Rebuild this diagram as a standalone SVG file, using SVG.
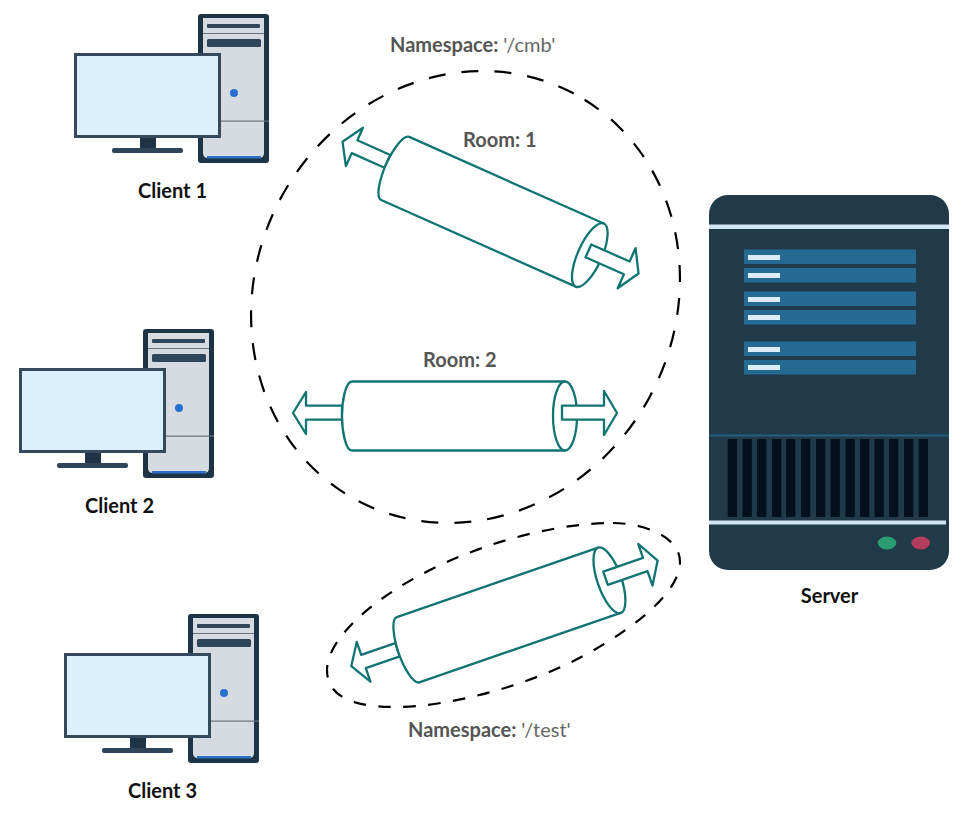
<svg xmlns="http://www.w3.org/2000/svg" xmlns:xlink="http://www.w3.org/1999/xlink" width="968" height="835" viewBox="0 0 968 835">
<style>
text{font-family:Lato,"Open Sans","Liberation Sans",sans-serif;font-size:20px}
.lbl{font-weight:700;fill:#111;text-anchor:middle}
.cap{font-weight:700;fill:#555}
.cap tspan{font-weight:400;fill:#666}
.tube{fill:#fff;stroke:#0f7472;stroke-width:2.300;stroke-linejoin:round}
.dash{fill:none;stroke:#000;stroke-width:2.200}
.bar{fill:#246a91}
.tick{fill:#dcedf9}
.vent{fill:#03111f}
</style>
<defs>
<g id="pc">
<rect x="198" y="14" width="71" height="149" rx="3" fill="#1d3446"/>
<path d="M203,18H264V153Q264,158 259,158H208Q203,158 203,153Z" fill="#d6dbe1"/>
<rect x="207" y="24" width="53" height="4" rx="1" fill="#2f4559"/>
<rect x="203" y="33" width="61" height="1" fill="#67727c"/>
<rect x="207" y="39" width="54" height="8" rx="1.500" fill="#2f4559"/>
<circle cx="234" cy="93" r="4" fill="#2a6fd0"/>
<rect x="203" y="120.500" width="66" height="1.200" fill="#67727c"/>
<rect x="207" y="156" width="54" height="2.500" fill="#2f6fc8"/>
<rect x="140" y="137" width="16" height="12" fill="#1d3446"/>
<rect x="112" y="148" width="71" height="5" rx="2" fill="#2f4559"/>
<rect x="75.500" y="54.500" width="144" height="82" fill="#dcf0fb" stroke="#34495c" stroke-width="3"/>
</g>
<g id="tube">
<path class="tube" d="M-116.500,-10.300H-152.500V-24L-165.500,-3L-152.500,18V3.700H-116.500Z"/>
<path class="tube" d="M-106.500,-34.500H106.500V34.500H-106.500C-113,34.500 -116.500,15 -116.500,0S-113,-34.500 -106.500,-34.500Z"/>
<ellipse class="tube" cx="106.500" cy="0" rx="12" ry="34.500"/>
<path class="tube" d="M103.500,-10.300H145.500V-25L158.500,-3L145.500,19V3.700H103.500Z"/>
</g>
</defs>
<rect width="968" height="835" fill="#fff"/>
<g id="client-1"><use href="#pc"/><text class="lbl" x="172.500" y="198">Client 1</text></g>
<g id="client-2"><use href="#pc" transform="translate(-55,315)"/><text class="lbl" x="119.500" y="513">Client 2</text></g>
<g id="client-3"><use href="#pc" transform="translate(-10,600)"/><text class="lbl" x="162.500" y="798">Client 3</text></g>
<g id="server">
<rect x="709" y="195" width="240" height="375" rx="19" fill="#203a4a"/>
<rect x="709" y="224.500" width="240" height="4.500" fill="#d3e5f3"/>
<rect class="bar" x="744" y="249.500" width="172" height="14.500"/><rect class="tick" x="748" y="255" width="32" height="5"/>
<rect class="bar" x="744" y="268" width="172" height="14.500"/><rect class="tick" x="748" y="273" width="32" height="5"/>
<rect class="bar" x="744" y="291.500" width="172" height="14.500"/><rect class="tick" x="748" y="297" width="32" height="5"/>
<rect class="bar" x="744" y="310" width="172" height="14.500"/><rect class="tick" x="748" y="315" width="32" height="5"/>
<rect class="bar" x="744" y="341.500" width="172" height="14.500"/><rect class="tick" x="748" y="347" width="32" height="5"/>
<rect class="bar" x="744" y="360" width="172" height="14.500"/><rect class="tick" x="748" y="365" width="32" height="5"/>
<rect x="709" y="434.500" width="240" height="2" fill="#235f80"/>
<rect class="vent" x="727.700" y="439" width="9.300" height="78"/>
<rect class="vent" x="742.500" y="439" width="9.300" height="78"/>
<rect class="vent" x="757" y="439" width="9.300" height="78"/>
<rect class="vent" x="772" y="439" width="9.300" height="78"/>
<rect class="vent" x="786" y="439" width="9.300" height="78"/>
<rect class="vent" x="801" y="439" width="9.300" height="78"/>
<rect class="vent" x="816" y="439" width="9.300" height="78"/>
<rect class="vent" x="830.500" y="439" width="9.300" height="78"/>
<rect class="vent" x="845.500" y="439" width="9.300" height="78"/>
<rect class="vent" x="860" y="439" width="9.300" height="78"/>
<rect class="vent" x="874.500" y="439" width="9.300" height="78"/>
<rect class="vent" x="889" y="439" width="9.300" height="78"/>
<rect class="vent" x="904" y="439" width="9.300" height="78"/>
<rect class="vent" x="918.700" y="439" width="9.300" height="78"/>
<rect x="709" y="520.500" width="237" height="4" fill="#d3e5f3"/>
<ellipse cx="887" cy="543" rx="9.300" ry="6.500" fill="#2e9c72"/>
<ellipse cx="920.700" cy="543" rx="9.300" ry="6.500" fill="#b43c5c"/>
<text class="lbl" x="829.500" y="603">Server</text>
</g>
<g id="connectors">
<g id="room-1"><use href="#tube" transform="translate(492.500,211.750) rotate(24)"/><text class="cap" x="463" y="147">Room: 1</text></g>
<g id="room-2"><use href="#tube" transform="translate(458.500,416)"/><text class="cap" x="423" y="367">Room: 2</text></g>
<g id="room-3"><use href="#tube" transform="translate(508.750,615) rotate(-19)"/></g>
</g>
<g id="namespace-cmb">
<path class="dash" d="M465.500,66.500A209.600,230.500 0 0 1 465.500,527.500A209.600,230.500 0 0 1 465.500,66.500Z" transform="rotate(28.400 465.500 297)" stroke-dasharray="17 16" stroke-dashoffset="-11"/>
<text class="cap" x="390" y="52">Namespace: <tspan>'/cmb'</tspan></text>
</g>
<g id="namespace-test">
<path class="dash" stroke-dasharray="12.500 12.500" d="M613,523C640,523 680,535 680,562C680,590 640,625 585,655C530,685 450,707 395,707C350,707 327,695 327,670C327,640 370,600 430,570C490,540 560,523 613,523Z"/>
<text class="cap" x="408" y="737">Namespace: <tspan>'/test'</tspan></text>
</g>
</svg>
